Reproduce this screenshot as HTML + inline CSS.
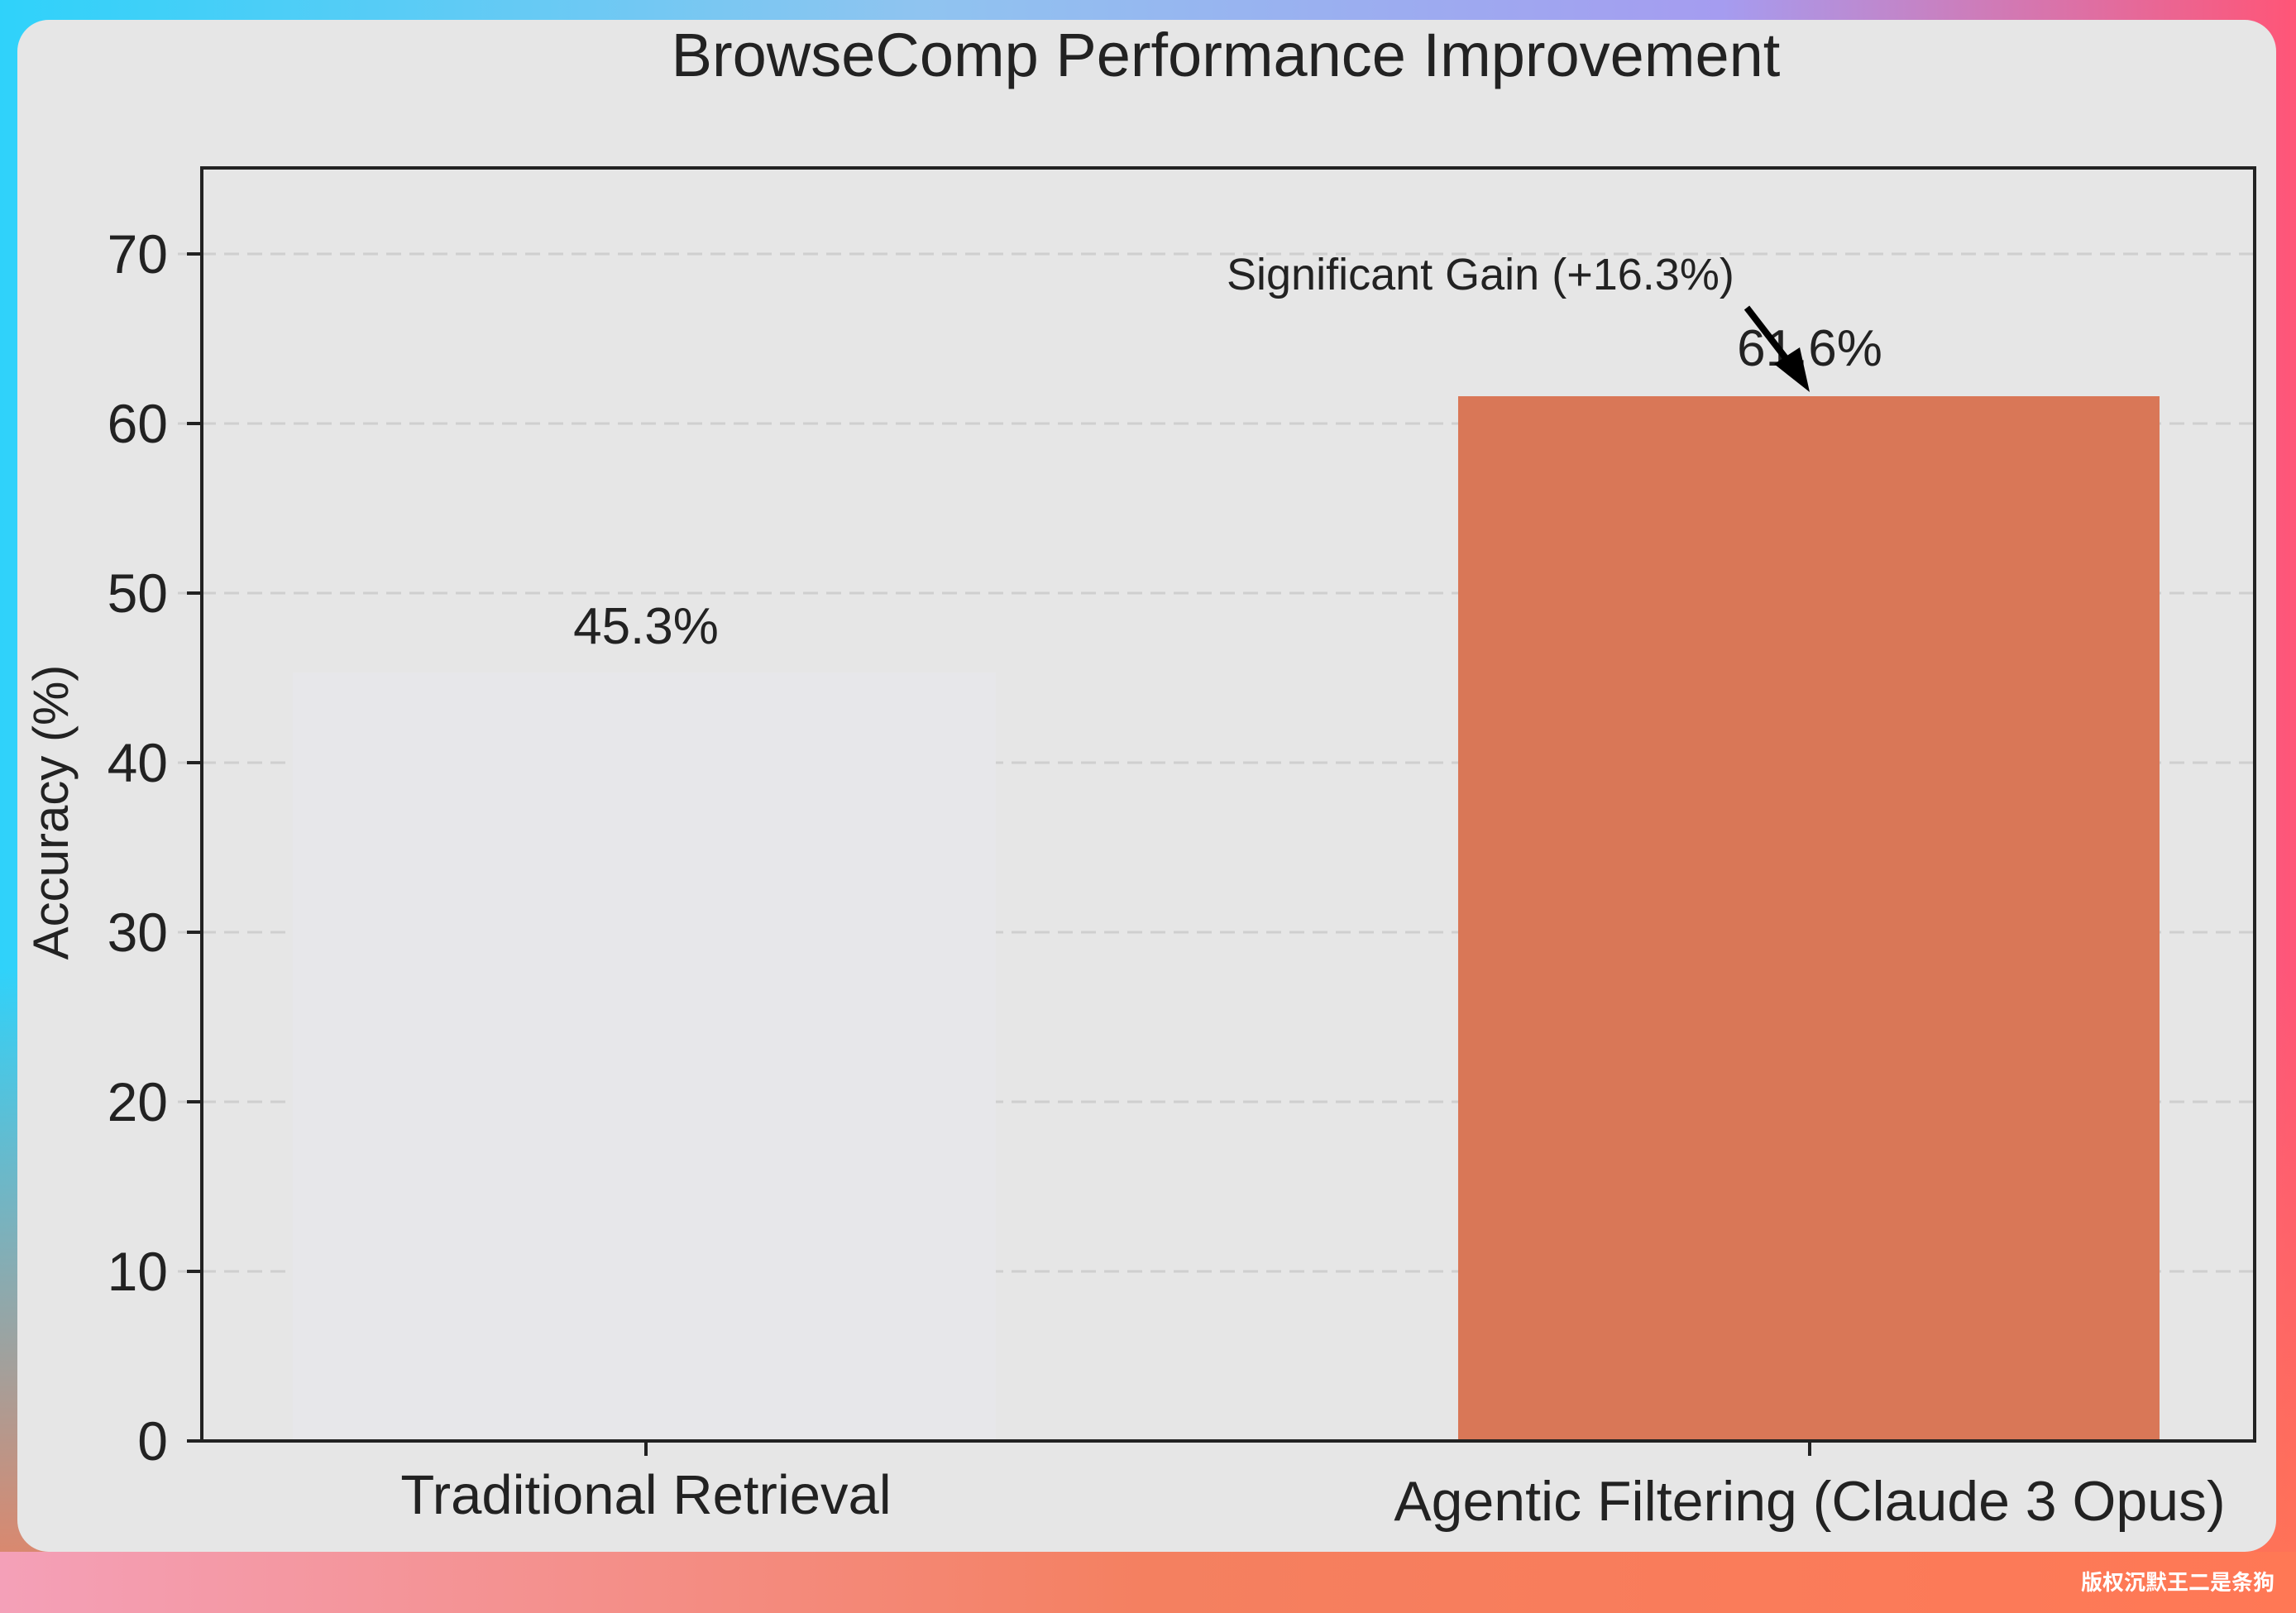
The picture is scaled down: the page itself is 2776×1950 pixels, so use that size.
<!DOCTYPE html>
<html><head><meta charset="utf-8"><style>
html,body{margin:0;padding:0}
body{width:2776px;height:1950px;overflow:hidden;position:relative;
background:linear-gradient(180deg,rgba(0,0,0,0) 60%,rgba(255,120,80,0.9) 100%),linear-gradient(90deg,#2fd2fa 0%,#8fc4f0 40%,#a59cf0 75%,#ff5577 100%);}
#card{position:absolute;left:21px;top:24px;width:2731px;height:1852px;background:#e6e6e6;border-radius:38px}
svg{position:absolute;left:0;top:0}
text{font-family:"Liberation Sans",sans-serif;fill:#222}
</style></head><body>
<div id="card"></div>
<svg width="2776" height="1950">
<defs><linearGradient id="bot" x1="0" x2="1"><stop offset="0" stop-color="#f4a0b8"/><stop offset="0.5" stop-color="#f48060"/><stop offset="1" stop-color="#ff7855"/></linearGradient></defs>
<rect x="0" y="1876" width="2776" height="74" fill="url(#bot)"/>
<text x="1482" y="92" font-size="74" text-anchor="middle">BrowseComp Performance Improvement</text>
<g stroke="#cfcfcf" stroke-width="3" stroke-dasharray="18,10">
<line x1="215" x2="2724" y1="307" y2="307"/><line x1="215" x2="2724" y1="512" y2="512"/>
<line x1="215" x2="2724" y1="717" y2="717"/><line x1="215" x2="2724" y1="922" y2="922"/>
<line x1="215" x2="2724" y1="1127" y2="1127"/><line x1="215" x2="2724" y1="1332" y2="1332"/>
<line x1="215" x2="2724" y1="1537" y2="1537"/>
</g>
<rect x="354" y="813" width="850" height="929" fill="#e7e7ea"/>
<rect x="1763" y="479" width="848" height="1263" fill="#d97757"/>
<rect x="244" y="203" width="2482" height="1539" fill="none" stroke="#222" stroke-width="4"/>
<g stroke="#222" stroke-width="4">
<line x1="226" x2="244" y1="307" y2="307"/><line x1="226" x2="244" y1="512" y2="512"/>
<line x1="226" x2="244" y1="717" y2="717"/><line x1="226" x2="244" y1="922" y2="922"/>
<line x1="226" x2="244" y1="1127" y2="1127"/><line x1="226" x2="244" y1="1332" y2="1332"/>
<line x1="226" x2="244" y1="1537" y2="1537"/><line x1="226" x2="244" y1="1742" y2="1742"/>
<line x1="781" x2="781" y1="1742" y2="1760"/><line x1="2188" x2="2188" y1="1742" y2="1760"/>
</g>
<g font-size="66" text-anchor="end">
<text x="203" y="330">70</text><text x="203" y="535">60</text><text x="203" y="740">50</text>
<text x="203" y="945">40</text><text x="203" y="1150">30</text><text x="203" y="1355">20</text>
<text x="203" y="1560">10</text><text x="203" y="1765">0</text>
</g>
<text transform="translate(82,982) rotate(-90)" font-size="60" text-anchor="middle">Accuracy (%)</text>
<text x="781" y="1830" font-size="67" text-anchor="middle">Traditional Retrieval</text>
<text x="2188" y="1838" font-size="68" text-anchor="middle">Agentic Filtering (Claude 3 Opus)</text>
<text x="781" y="778" font-size="62" text-anchor="middle">45.3%</text>
<text x="2188" y="442" font-size="62" text-anchor="middle">61.6%</text>
<text x="1483" y="350" font-size="54">Significant Gain (+16.3%)</text>
<line x1="2112" y1="372" x2="2166" y2="442" stroke="#000" stroke-width="8"/>
<polygon points="2188,474 2145,440 2176,420" fill="#000"/>
<text x="2750" y="1922" font-size="26" font-weight="bold" text-anchor="end" style="fill:#fff;font-family:'Liberation Sans','Noto Sans CJK SC',sans-serif">版权沉默王二是条狗</text>
</svg>
</body></html>
